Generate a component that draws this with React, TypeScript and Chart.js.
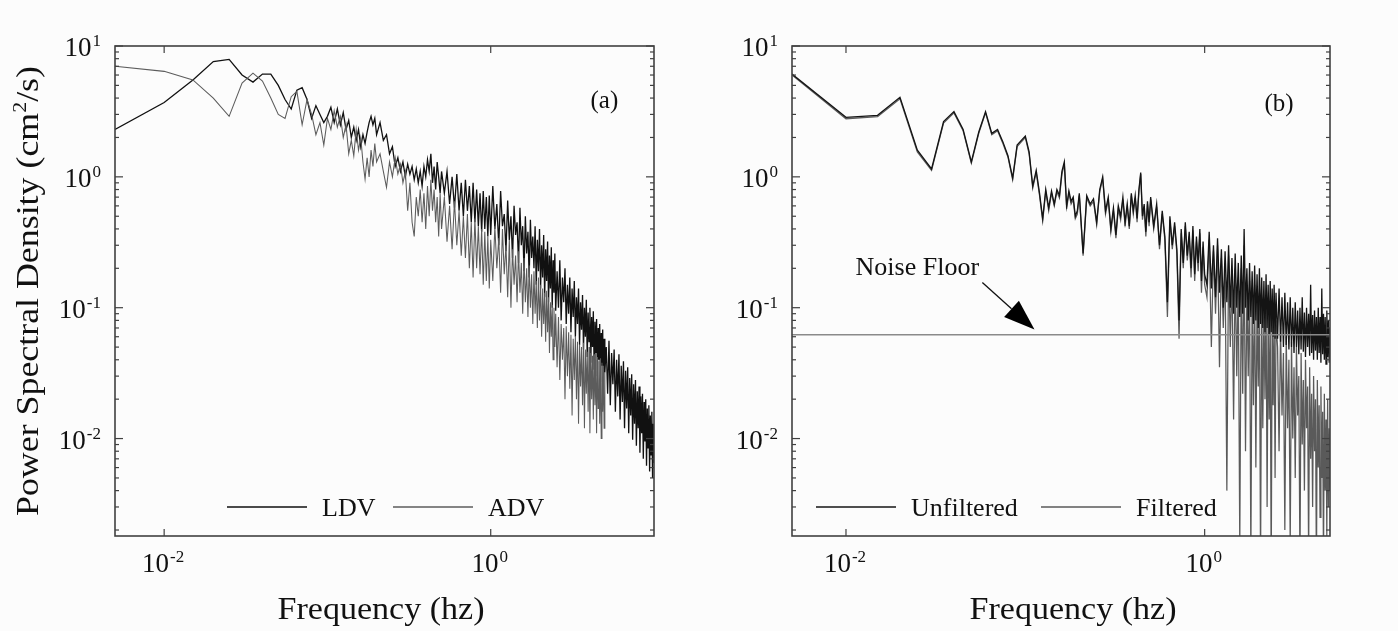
import React, { useEffect, useRef } from 'react';
import { Chart, registerables } from 'chart.js';
Chart.register(...registerables);

// ---------------- data ----------------
// Frequency bins (Hz)
const FREQ: number[] = [
  0.005, 0.01, 0.015, 0.02, 0.025, 0.03, 0.035, 0.04, 0.045, 0.05, 0.055, 0.06, 0.065, 0.07, 0.075, 0.08, 0.085, 0.09, 0.095, 0.1,
  0.105, 0.11, 0.115, 0.12, 0.125, 0.13, 0.135, 0.14, 0.145, 0.15, 0.155, 0.16, 0.165, 0.17, 0.175, 0.18, 0.185, 0.19, 0.195, 0.2,
  0.21, 0.22, 0.23, 0.24, 0.25, 0.26, 0.27, 0.28, 0.29, 0.3, 0.31, 0.32, 0.33, 0.34, 0.35, 0.36, 0.37, 0.38, 0.39, 0.4,
  0.41, 0.42, 0.43, 0.44, 0.45, 0.46, 0.47, 0.48, 0.49, 0.5,
  0.52, 0.54, 0.56, 0.58, 0.6, 0.62, 0.64, 0.66, 0.68, 0.7, 0.72, 0.74, 0.76, 0.78, 0.8, 0.82, 0.84, 0.86, 0.88, 0.9, 0.92, 0.94, 0.96, 0.98, 1.0,
  1.03, 1.06, 1.09, 1.12, 1.15, 1.18, 1.21, 1.24, 1.27, 1.3, 1.33, 1.36, 1.39, 1.42, 1.45, 1.48, 1.51, 1.54, 1.57, 1.6,
  1.63, 1.66, 1.69, 1.72, 1.75, 1.78, 1.81, 1.84, 1.87, 1.9, 1.93, 1.96, 1.99, 2.02, 2.05, 2.08, 2.11, 2.14, 2.17, 2.2,
  2.23, 2.26, 2.29, 2.32, 2.35, 2.38, 2.41, 2.44, 2.47, 2.5,
  2.55, 2.6, 2.65, 2.7, 2.75, 2.8, 2.85, 2.9, 2.95, 3, 3.05, 3.1, 3.15, 3.2, 3.25, 3.3, 3.35, 3.4, 3.45, 3.5,
  3.55, 3.6, 3.65, 3.7, 3.75, 3.8, 3.85, 3.9, 3.95, 4, 4.05, 4.1, 4.15, 4.2, 4.25, 4.3, 4.35, 4.4, 4.45, 4.5,
  4.55, 4.6, 4.65, 4.7, 4.75, 4.8, 4.85, 4.9, 4.95, 5,
  5.1, 5.2, 5.3, 5.4, 5.5, 5.6, 5.7, 5.8, 5.9, 6, 6.1, 6.2, 6.3, 6.4, 6.5, 6.6, 6.7, 6.8, 6.9, 7,
  7.1, 7.2, 7.3, 7.4, 7.5, 7.6, 7.7, 7.8, 7.9, 8, 8.1, 8.2, 8.3, 8.4, 8.5, 8.6, 8.7, 8.8, 8.9, 9,
  9.1, 9.2, 9.3, 9.4, 9.5, 9.6, 9.7, 9.8, 9.9, 10,
];

// Panel (a): LDV (to 10 Hz) and ADV (to 5 Hz), cm^2/s
const LDV: number[] = [
  2.3, 3.7, 5.5, 7.6, 7.9, 6.0, 5.3, 6.1, 6.1, 5.0, 3.9, 3.3, 4.6, 4.8, 3.9, 2.8, 3.5, 3.0, 2.6, 2.9,
  3.4, 2.6, 3.3, 2.5, 3.1, 2.3, 2.7, 2.0, 2.4, 1.9, 2.3, 1.7, 2.1, 1.8, 2.2, 2.6, 2.9, 2.5, 2.8, 2.1,
  2.6, 1.9, 2.1, 1.5, 1.7, 1.2, 1.4, 1.1, 1.3, 1.0, 1.25, 1.05, 1.2, 0.95, 1.15, 0.9, 1.1, 0.85, 1.2, 1.0,
  1.35, 1.1, 1.5, 0.9, 1.2, 0.8, 1.3, 1.0, 0.75, 1.1,
  0.75, 1.1, 0.62, 1.0, 0.58, 1.05, 0.55, 0.9, 0.5, 0.95, 0.55, 0.85, 0.45, 0.9, 0.45, 0.8, 0.42, 0.75, 0.38, 0.78, 0.4, 0.7, 0.35, 0.72, 0.36,
  0.85, 0.4, 0.62, 0.3, 0.78, 0.42, 0.52, 0.27, 0.66, 0.33, 0.5, 0.24, 0.6, 0.36, 0.45, 0.22, 0.58, 0.3, 0.42, 0.19,
  0.5, 0.26, 0.38, 0.17, 0.47, 0.24, 0.35, 0.2, 0.42, 0.15, 0.33, 0.19, 0.4, 0.14, 0.3, 0.17, 0.36, 0.12, 0.28, 0.16,
  0.32, 0.11, 0.25, 0.14, 0.29, 0.1, 0.23, 0.13, 0.26, 0.095,
  0.19, 0.1, 0.23, 0.08, 0.17, 0.11, 0.2, 0.075, 0.15, 0.09, 0.17, 0.065, 0.14, 0.085, 0.16, 0.06, 0.12, 0.075, 0.14, 0.052,
  0.11, 0.068, 0.125, 0.048, 0.1, 0.06, 0.115, 0.042, 0.092, 0.055, 0.1, 0.038, 0.085, 0.05, 0.094, 0.034, 0.078, 0.045, 0.082, 0.03,
  0.07, 0.04, 0.075, 0.027, 0.064, 0.036, 0.068, 0.024, 0.058, 0.032,
  0.05, 0.022, 0.056, 0.018, 0.045, 0.026, 0.048, 0.016, 0.04, 0.021, 0.044, 0.014, 0.036, 0.019, 0.039, 0.012, 0.033, 0.017, 0.035, 0.011,
  0.029, 0.015, 0.031, 0.0098, 0.026, 0.013, 0.028, 0.0088, 0.023, 0.012, 0.025, 0.0078, 0.021, 0.011, 0.022, 0.007, 0.019, 0.0095, 0.02, 0.0062,
  0.017, 0.0085, 0.018, 0.0056, 0.015, 0.0075, 0.016, 0.005, 0.013, 0.0065,
];

const ADV: number[] = [
  7.0, 6.4, 5.5, 4.0, 2.9, 5.2, 6.2, 5.4, 4.0, 3.0, 2.8, 4.1, 4.5, 2.5, 3.9, 3.0, 2.1, 2.6, 1.75, 2.8,
  2.3, 3.2, 2.4, 2.9, 2.0, 2.5, 1.5, 1.9, 1.45, 2.3, 1.6, 2.0, 1.3, 0.96, 1.4, 1.0, 1.6, 1.2, 1.8, 1.3,
  1.5, 1.1, 0.83, 1.3, 1.0, 1.4, 1.05, 1.25, 0.9, 1.1, 0.55, 0.9, 0.45, 0.35, 0.7, 0.5, 0.8, 0.45, 0.75, 0.4,
  0.85, 0.5, 0.95, 0.55, 0.8, 0.45, 0.7, 0.35, 0.75, 0.4,
  0.7, 0.32, 0.6, 0.28, 0.65, 0.3, 0.55, 0.25, 0.5, 0.24, 0.52, 0.2, 0.45, 0.17, 0.48, 0.2, 0.42, 0.18, 0.4, 0.15, 0.38, 0.16, 0.35, 0.14, 0.33,
  0.16, 0.42, 0.2, 0.34, 0.13, 0.4, 0.18, 0.3, 0.12, 0.33, 0.1, 0.28, 0.15, 0.25, 0.11, 0.27, 0.13, 0.22, 0.09, 0.24,
  0.11, 0.2, 0.085, 0.21, 0.1, 0.18, 0.075, 0.19, 0.09, 0.16, 0.07, 0.17, 0.08, 0.15, 0.06, 0.14, 0.075, 0.13, 0.055, 0.135,
  0.065, 0.12, 0.045, 0.11, 0.06, 0.105, 0.04, 0.1, 0.05, 0.09,
  0.035, 0.085, 0.028, 0.075, 0.04, 0.07, 0.02, 0.072, 0.03, 0.065, 0.024, 0.062, 0.015, 0.058, 0.028, 0.06, 0.02, 0.055, 0.013, 0.052,
  0.025, 0.05, 0.018, 0.054, 0.012, 0.048, 0.022, 0.046, 0.016, 0.05, 0.011, 0.045, 0.02, 0.043, 0.014, 0.044, 0.018, 0.04, 0.011, 0.042,
  0.017, 0.039, 0.013, 0.041, 0.01, 0.038, 0.016, 0.036, 0.012, 0.032,
];

// Panel (b): unfiltered vs filtered (to 5 Hz)
const UNFILTERED: number[] = [
  6.1, 2.85, 2.95, 4.05, 1.6, 1.15, 2.65, 3.15, 2.3, 1.3, 2.2, 3.15, 2.15, 2.3, 1.85, 1.45, 0.98, 1.75, 1.9, 2.05,
  1.55, 0.85, 1.12, 0.75, 0.48, 0.8, 0.58, 0.78, 0.62, 0.8, 0.72, 1.1, 1.3, 0.6, 0.78, 0.65, 0.7, 0.5, 0.55, 0.75,
  0.26, 0.72, 0.62, 0.68, 0.45, 0.8, 1.0, 0.55, 0.7, 0.4, 0.58, 0.36, 0.6, 0.5, 0.7, 0.45, 0.62, 0.42, 0.75, 0.55,
  0.72, 0.48, 0.8, 1.08, 0.5, 0.62, 0.38, 0.65, 0.45, 0.7,
  0.42, 0.62, 0.3, 0.55, 0.35, 0.11, 0.5, 0.3, 0.45, 0.28, 0.08, 0.4, 0.22, 0.45, 0.25, 0.38, 0.2, 0.42, 0.18, 0.35, 0.22, 0.4, 0.16, 0.32, 0.18,
  0.15, 0.38, 0.14, 0.3, 0.12, 0.34, 0.13, 0.28, 0.1, 0.27, 0.11, 0.3, 0.1, 0.24, 0.09, 0.26, 0.1, 0.22, 0.085, 0.25,
  0.09, 0.4, 0.1, 0.2, 0.08, 0.22, 0.085, 0.19, 0.075, 0.21, 0.08, 0.18, 0.07, 0.2, 0.075, 0.17, 0.07, 0.16, 0.065, 0.18,
  0.07, 0.15, 0.062, 0.16, 0.065, 0.14, 0.06, 0.15, 0.058, 0.13,
  0.058, 0.14, 0.055, 0.12, 0.05, 0.13, 0.052, 0.11, 0.048, 0.12, 0.05, 0.1, 0.045, 0.11, 0.05, 0.095, 0.044, 0.1, 0.048, 0.12,
  0.046, 0.092, 0.042, 0.1, 0.05, 0.09, 0.043, 0.15, 0.045, 0.088, 0.04, 0.095, 0.047, 0.085, 0.04, 0.1, 0.045, 0.085, 0.038, 0.14,
  0.044, 0.09, 0.04, 0.085, 0.037, 0.095, 0.042, 0.08, 0.038, 0.07,
];

const FILTERED: number[] = [
  6.0, 2.78, 2.88, 3.95, 1.55, 1.12, 2.58, 3.08, 2.25, 1.27, 2.15, 3.08, 2.1, 2.25, 1.8, 1.42, 0.95, 1.7, 1.85, 2.0,
  1.5, 0.82, 1.08, 0.72, 0.46, 0.77, 0.55, 0.75, 0.6, 0.77, 0.69, 1.05, 1.25, 0.57, 0.75, 0.62, 0.67, 0.48, 0.52, 0.72,
  0.25, 0.69, 0.6, 0.65, 0.43, 0.77, 0.97, 0.52, 0.67, 0.38, 0.55, 0.34, 0.57, 0.47, 0.67, 0.42, 0.59, 0.4, 0.72, 0.52,
  0.69, 0.45, 0.77, 1.05, 0.47, 0.59, 0.35, 0.62, 0.42, 0.67,
  0.4, 0.59, 0.28, 0.52, 0.33, 0.085, 0.47, 0.28, 0.42, 0.26, 0.058, 0.37, 0.2, 0.42, 0.23, 0.35, 0.17, 0.39, 0.16, 0.32, 0.19, 0.37, 0.13, 0.29, 0.15,
  0.12, 0.33, 0.05, 0.27, 0.09, 0.3, 0.035, 0.24, 0.07, 0.22, 0.004, 0.25, 0.05, 0.19, 0.014, 0.2, 0.03, 0.17, 0.0015, 0.2,
  0.022, 0.3, 0.008, 0.15, 0.03, 0.16, 0.0012, 0.13, 0.018, 0.15, 0.006, 0.12, 0.025, 0.13, 0.001, 0.11, 0.012, 0.1, 0.02, 0.12,
  0.003, 0.09, 0.014, 0.1, 0.0008, 0.085, 0.018, 0.09, 0.005, 0.08,
  0.05, 0.008, 0.07, 0.015, 0.045, 0.002, 0.06, 0.012, 0.04, 0.0015, 0.055, 0.01, 0.035, 0.005, 0.05, 0.015, 0.03, 0.001, 0.045, 0.009,
  0.028, 0.004, 0.04, 0.012, 0.025, 0.0012, 0.035, 0.007, 0.022, 0.003, 0.03, 0.008, 0.02, 0.0009, 0.028, 0.006, 0.018, 0.0025, 0.025, 0.005,
  0.016, 0.0011, 0.022, 0.004, 0.014, 0.0018, 0.02, 0.003, 0.012, 0.004,
];

const NOISE_FLOOR = 0.062;
const X_MIN = 0.005;
const X_MAX_A = 10;
const X_MAX_B = 5;
const Y_MIN = 0.0018;
const Y_MAX = 10;

const X_TICKS = [0.01, 1];
const X_TICK_EXP = ['-2', '0'];
const Y_TICKS = [10, 1, 0.1, 0.01];
const Y_TICK_EXP = ['1', '0', '-1', '-2'];

// annotations in data coordinates [freq, psd]
const TAG_A: [number, number] = [4.97, 3.8];
const TAG_B: [number, number] = [2.6, 3.6];
const NOISE_TEXT_AT: [number, number] = [0.025, 0.2];
const ARROW_FROM: [number, number] = [0.0576, 0.156];
const ARROW_TO: [number, number] = [0.1125, 0.068];

// ---------------- drawing helpers ----------------
const BG = '#fcfcfc';
const FONT = '"Liberation Serif", "Times New Roman", serif';
const AXIS_COLOR = '#404040';

const pts = (freq: number[], vals: number[]) => vals.map((v, i) => ({ x: freq[i], y: v }));

function drawPow(ctx: CanvasRenderingContext2D, exp: string, x: number, y: number, align: 'right' | 'center') {
  ctx.textBaseline = 'alphabetic';
  ctx.textAlign = 'left';
  ctx.fillStyle = '#111';
  ctx.font = `27px ${FONT}`;
  const wb = ctx.measureText('10').width;
  ctx.font = `17px ${FONT}`;
  const we = ctx.measureText(exp).width;
  const total = wb + 1 + we;
  const x0 = align === 'right' ? x - total : x - total / 2;
  ctx.font = `27px ${FONT}`;
  ctx.fillText('10', x0, y + 9);
  ctx.font = `17px ${FONT}`;
  ctx.fillText(exp, x0 + wb + 1, y - 1);
}

function drawStretched(ctx: CanvasRenderingContext2D, text: string, cx: number, baseline: number, font: string, target: number) {
  ctx.font = font;
  const w = ctx.measureText(text).width;
  ctx.save();
  ctx.translate(cx, baseline);
  ctx.scale(target / w, 1);
  ctx.textAlign = 'left';
  ctx.textBaseline = 'alphabetic';
  ctx.fillStyle = '#111';
  ctx.fillText(text, -w / 2, 0);
  ctx.restore();
}

function drawYTitle(ctx: CanvasRenderingContext2D, cx: number, cy: number, target: number) {
  const big = `31px ${FONT}`;
  const small = `19px ${FONT}`;
  const p1 = 'Power Spectral Density (cm';
  const p2 = '2';
  const p3 = '/s)';
  ctx.font = big;
  const w1 = ctx.measureText(p1).width;
  const w3 = ctx.measureText(p3).width;
  ctx.font = small;
  const w2 = ctx.measureText(p2).width;
  const W = w1 + w2 + w3;
  ctx.save();
  ctx.translate(cx, cy);
  ctx.rotate(-Math.PI / 2);
  ctx.scale(target / W, 1);
  ctx.textAlign = 'left';
  ctx.textBaseline = 'alphabetic';
  ctx.fillStyle = '#111';
  let x = -W / 2;
  const base = 10;
  ctx.font = big;
  ctx.fillText(p1, x, base);
  x += w1;
  ctx.font = small;
  ctx.fillText(p2, x, base - 12);
  x += w2;
  ctx.font = big;
  ctx.fillText(p3, x, base);
  ctx.restore();
}

interface LegendItem { label: string; color: string; width: number; }
interface PanelSpec {
  xMax: number;
  datasets: any[];
  legend: LegendItem[];
  legendStarts: number[];
  tag: string;
  tagAt: [number, number];
  noise: boolean;
  pad: { left: number; right: number; top: number; bottom: number };
  yTitle: boolean;
  xTitleX: number;
}

function makeDecor(spec: PanelSpec) {
  return {
    id: 'decor',
    beforeDraw(chart: any) {
      const ctx = chart.ctx as CanvasRenderingContext2D;
      ctx.save();
      ctx.fillStyle = BG;
      ctx.fillRect(0, 0, chart.width, chart.height);
      ctx.restore();
    },
    afterDatasetsDraw(chart: any) {
      const ctx = chart.ctx as CanvasRenderingContext2D;
      const { left, right, top, bottom } = chart.chartArea;
      const xs = chart.scales.x;
      const ys = chart.scales.y;
      ctx.save();
      const seg = (x1: number, y1: number, x2: number, y2: number) => {
        ctx.beginPath();
        ctx.moveTo(x1, y1);
        ctx.lineTo(x2, y2);
        ctx.stroke();
      };
      // frame
      ctx.strokeStyle = AXIS_COLOR;
      ctx.lineWidth = 1.6;
      ctx.strokeRect(left, top, right - left, bottom - top);
      // y ticks (major + minor) on both sides
      ctx.lineWidth = 1.2;
      for (let d = -3; d <= 1; d++) {
        for (let m = 1; m <= 9; m++) {
          const v = m * Math.pow(10, d);
          if (v < ys.min || v > ys.max * 1.0001) continue;
          const py = ys.getPixelForValue(v);
          const len = m === 1 ? 8 : 4;
          seg(left, py, left + len, py);
          seg(right, py, right - len, py);
        }
      }
      // x ticks
      X_TICKS.forEach((v) => {
        const px = xs.getPixelForValue(v);
        seg(px, bottom, px, bottom - 7);
        seg(px, top, px, top + 7);
      });
      // tick labels
      Y_TICKS.forEach((v, i) => drawPow(ctx, Y_TICK_EXP[i], left - 14, ys.getPixelForValue(v) + 1, 'right'));
      X_TICKS.forEach((v, i) => drawPow(ctx, X_TICK_EXP[i], xs.getPixelForValue(v) - 1, bottom + 27, 'center'));
      // axis titles
      drawStretched(ctx, 'Frequency (hz)', spec.xTitleX, 619, `31px ${FONT}`, 207);
      if (spec.yTitle) drawYTitle(ctx, 28, (top + bottom) / 2, 450);
      // panel tag
      ctx.fillStyle = '#111';
      ctx.font = `25px ${FONT}`;
      ctx.textAlign = 'center';
      ctx.textBaseline = 'middle';
      ctx.fillText(spec.tag, xs.getPixelForValue(spec.tagAt[0]), ys.getPixelForValue(spec.tagAt[1]));
      // legend inside plot
      const ly = bottom - 29;
      spec.legend.forEach((it, i) => {
        const sx = left + spec.legendStarts[i];
        ctx.strokeStyle = it.color;
        ctx.lineWidth = it.width + 0.3;
        seg(sx, ly, sx + 80, ly);
        ctx.fillStyle = '#111';
        ctx.font = `26px ${FONT}`;
        ctx.textAlign = 'left';
        ctx.textBaseline = 'alphabetic';
        ctx.fillText(it.label, sx + 95, ly + 9);
      });
      // noise floor annotation
      if (spec.noise) {
        ctx.fillStyle = '#111';
        ctx.font = `26px ${FONT}`;
        ctx.textAlign = 'center';
        ctx.textBaseline = 'middle';
        ctx.fillText('Noise Floor', xs.getPixelForValue(NOISE_TEXT_AT[0]), ys.getPixelForValue(NOISE_TEXT_AT[1]));
        const sx = xs.getPixelForValue(ARROW_FROM[0]);
        const sy = ys.getPixelForValue(ARROW_FROM[1]);
        const tx = xs.getPixelForValue(ARROW_TO[0]);
        const ty = ys.getPixelForValue(ARROW_TO[1]);
        const L = Math.hypot(tx - sx, ty - sy);
        const dx = (tx - sx) / L;
        const dy = (ty - sy) / L;
        const hl = 31;
        const hw = 11;
        const bx = tx - dx * hl;
        const by = ty - dy * hl;
        ctx.strokeStyle = '#111';
        ctx.lineWidth = 1.3;
        seg(sx, sy, bx, by);
        ctx.beginPath();
        ctx.moveTo(tx, ty);
        ctx.lineTo(bx - dy * hw, by + dx * hw);
        ctx.lineTo(bx + dy * hw, by - dx * hw);
        ctx.closePath();
        ctx.fillStyle = '#000';
        ctx.fill();
      }
      ctx.restore();
    },
  };
}

function Panel({ spec, x, width }: { spec: PanelSpec; x: number; width: number }) {
  const ref = useRef<HTMLCanvasElement>(null);
  useEffect(() => {
    const chart = new Chart(ref.current as HTMLCanvasElement, {
      type: 'line',
      data: { datasets: spec.datasets },
      options: {
        responsive: false,
        animation: false,
        events: [],
        devicePixelRatio: 1,
        layout: { padding: spec.pad },
        plugins: { legend: { display: false }, tooltip: { enabled: false } },
        elements: { point: { radius: 0, hitRadius: 0 }, line: { tension: 0 } },
        scales: {
          x: { type: 'logarithmic', min: X_MIN, max: spec.xMax, display: false },
          y: { type: 'logarithmic', min: Y_MIN, max: Y_MAX, display: false },
        },
      } as any,
      plugins: [makeDecor(spec)],
    });
    return () => chart.destroy();
  }, []);
  return (
    <canvas
      ref={ref}
      width={width}
      height={631}
      style={{ position: 'absolute', left: x, top: 0, width, height: 631 }}
    />
  );
}

const LDV_COLOR = '#111111';
const ADV_COLOR = '#5c5c5c';
const UNF_COLOR = '#141414';
const FIL_COLOR = '#5a5a5a';
const NOISE_COLOR = '#8a8a8a';

const specA: PanelSpec = {
  xMax: X_MAX_A,
  datasets: [
    { label: 'ADV', data: pts(FREQ, ADV), borderColor: ADV_COLOR, borderWidth: 1.05, pointRadius: 0, fill: false, order: 0 },
    { label: 'LDV', data: pts(FREQ, LDV), borderColor: LDV_COLOR, borderWidth: 1.3, pointRadius: 0, fill: false, order: 1 },
  ],
  legend: [
    { label: 'LDV', color: LDV_COLOR, width: 1.3 },
    { label: 'ADV', color: ADV_COLOR, width: 1 },
  ],
  legendStarts: [112, 278],
  tag: '(a)',
  tagAt: TAG_A,
  noise: false,
  pad: { left: 115, right: 46, top: 46, bottom: 95 },
  yTitle: true,
  xTitleX: 381,
};

const specB: PanelSpec = {
  xMax: X_MAX_B,
  datasets: [
    {
      label: 'Noise Floor',
      data: [{ x: X_MIN, y: NOISE_FLOOR }, { x: X_MAX_B, y: NOISE_FLOOR }],
      borderColor: NOISE_COLOR, borderWidth: 1.5, pointRadius: 0, fill: false, order: 0,
    },
    { label: 'Unfiltered', data: pts(FREQ, UNFILTERED), borderColor: UNF_COLOR, borderWidth: 1.3, pointRadius: 0, fill: false, order: 1 },
    { label: 'Filtered', data: pts(FREQ, FILTERED), borderColor: FIL_COLOR, borderWidth: 1.25, pointRadius: 0, fill: false, order: 2 },
  ],
  legend: [
    { label: 'Unfiltered', color: UNF_COLOR, width: 1.3 },
    { label: 'Filtered', color: FIL_COLOR, width: 1 },
  ],
  legendStarts: [24, 249],
  tag: '(b)',
  tagAt: TAG_B,
  noise: true,
  pad: { left: 92, right: 68, top: 46, bottom: 95 },
  yTitle: false,
  xTitleX: 373,
};

export default function App() {
  return (
    <div style={{ position: 'fixed', left: 0, top: 0, width: 1398, height: 631, background: BG, overflow: 'hidden' }}>
      <Panel spec={specA} x={0} width={700} />
      <Panel spec={specB} x={700} width={698} />
    </div>
  );
}
